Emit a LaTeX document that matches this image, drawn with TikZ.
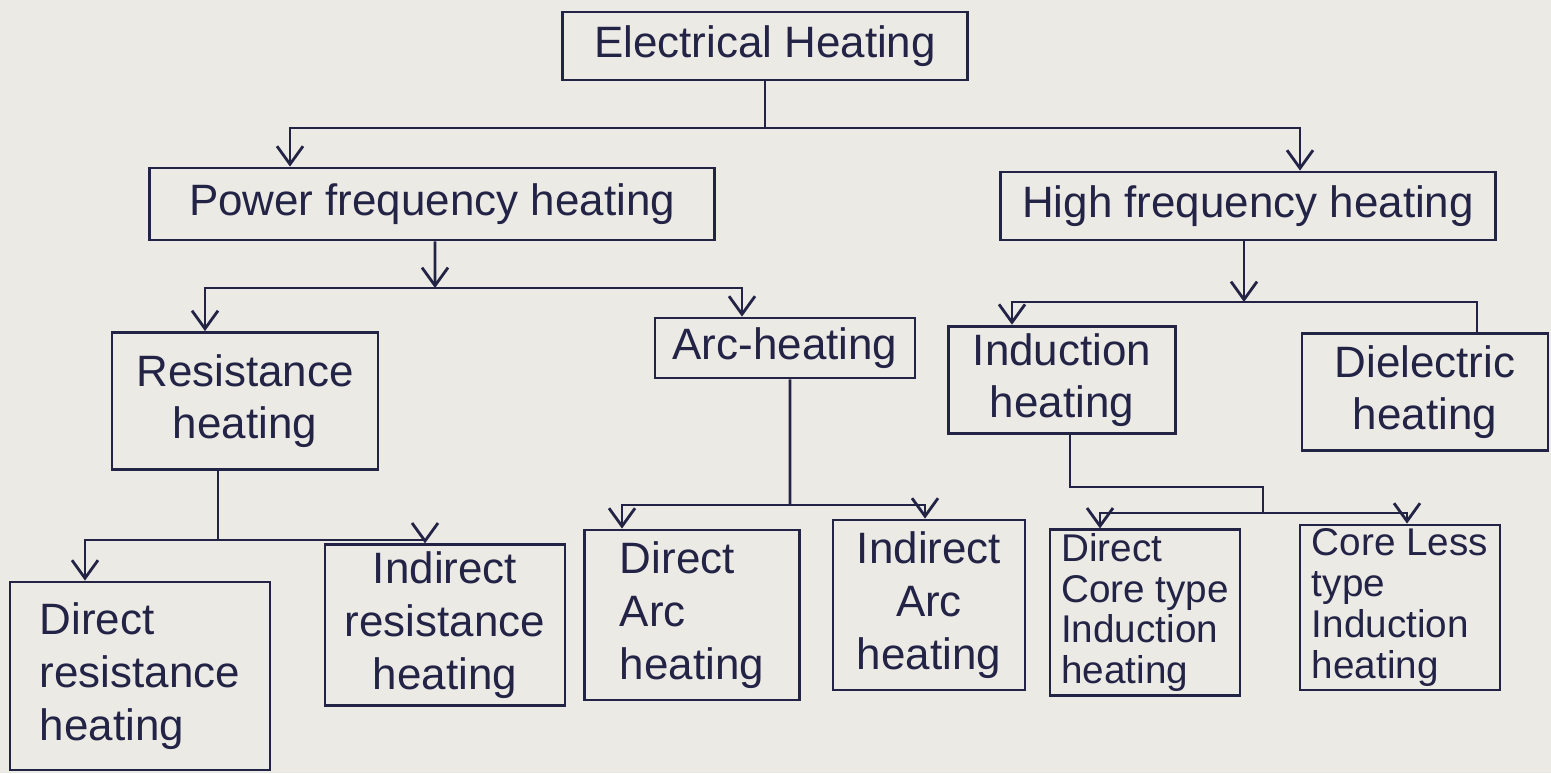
\documentclass[tikz,border=0pt]{standalone}
\usepackage{fontspec}
\setmainfont{Liberation Sans}
\usetikzlibrary{arrows.meta}
\definecolor{ink}{RGB}{35,35,70}
\definecolor{paper}{RGB}{236,234,229}
\tikzset{
  box/.style={rectangle, draw=ink, thick, text=ink, align=center, inner sep=2pt, font=\fontsize{12.5}{15}\selectfont},
  smallbox/.style={box, inner sep=1pt, font=\fontsize{11}{11.6}\selectfont},
  sz/.style 2 args={minimum width=#1cm, minimum height=#2cm},
  line/.style={draw=ink, thick},
  arrow/.style={-{Straight Barb[length=1.8mm,width=2.6mm]}, draw=ink, thick},
}

\begin{document}
\begin{tikzpicture}
\fill[paper] (0,0) rectangle (15.51,-7.73);
\useasboundingbox (0,0) rectangle (15.51,-7.73);
% level 0 and 1
\node[box, sz={4.05}{0.68}] (elec) at (7.65,-0.46) {Electrical Heating};
\node[box, sz={5.65}{0.72}] (pf) at (4.32,-2.04) {Power frequency heating};
\node[box, sz={4.95}{0.68}] (hf) at (12.48,-2.06) {High frequency heating};
% level 2
\node[box, sz={2.66}{1.37}] (res) at (2.45,-4.01) {Resistance\\heating};
\node[box, sz={2.60}{0.60}] (arc) at (7.85,-3.48) {Arc-heating};
\node[box, sz={2.27}{1.00}] (ind) at (10.62,-3.80) {Induction\\heating};
\node[box, sz={2.46}{1.17}] (diel) at (14.25,-3.92) {Dielectric\\heating};
% level 3
\node[box, sz={2.60}{1.88}, align=left] (dres) at (1.40,-6.76) {Direct\\resistance\\heating};
\node[box, sz={2.40}{1.50}] (ires) at (4.45,-6.25) {Indirect\\resistance\\heating};
\node[box, sz={2.15}{1.70}, align=left] (darc) at (6.92,-6.15) {Direct\\Arc\\heating};
\node[box, sz={1.92}{1.70}] (iarc) at (9.29,-6.05) {Indirect\\Arc\\heating};
\node[smallbox, sz={1.90}{1.65}, align=left] (dcore) at (11.45,-6.125) {Direct\\Core type\\Induction\\heating};
\node[smallbox, sz={2.00}{1.65}, align=left] (cless) at (14.00,-6.075) {Core Less\\type\\Induction\\heating};

% branch points
\coordinate (b0) at (7.65,-1.28);
\coordinate (b1) at (4.35,-2.88);
\coordinate (b2) at (12.44,-3.02);
\coordinate (b3) at (2.18,-5.40);
\coordinate (b4) at (7.90,-5.05);
\coordinate (jog) at (12.63,-4.87);
\coordinate (b5) at (12.63,-5.13);

\draw[line] (elec) -- (b0);
\draw[arrow] (b0) -| ([xshift=-1.42cm]pf.north);
\draw[arrow] (b0) -| ([xshift=0.52cm]hf.north);

\draw[arrow] ([xshift=0.03cm]pf.south) -- (b1);
\draw[arrow] (b1) -| ([xshift=-0.40cm]res.north);
\draw[arrow] (b1) -| ([xshift=-0.43cm]arc.north);

\draw[arrow] ([xshift=-0.04cm]hf.south) -- (b2);
\draw[arrow] (b2) -| ([xshift=-0.50cm]ind.north);
\draw[line] (b2) -| ([xshift=0.52cm]diel.north);

\draw[line] ([xshift=-0.27cm]res.south) -- (b3);
\draw[arrow] (b3) -| ([xshift=-0.55cm]dres.north);
\draw[arrow] (b3) -| ([xshift=-0.20cm]ires.north);

\draw[line] ([xshift=0.05cm]arc.south) -- (b4);
\draw[arrow] (b4) -| ([xshift=-0.70cm]darc.north);
\draw[arrow] (b4) -| ([xshift=-0.04cm]iarc.north);

\draw[line] ([xshift=0.08cm]ind.south) |- (jog) -- (b5);
\draw[arrow] (b5) -| ([xshift=-0.45cm]dcore.north);
\draw[arrow] (b5) -| ([xshift=0.07cm]cless.north);
\end{tikzpicture}
\end{document}
